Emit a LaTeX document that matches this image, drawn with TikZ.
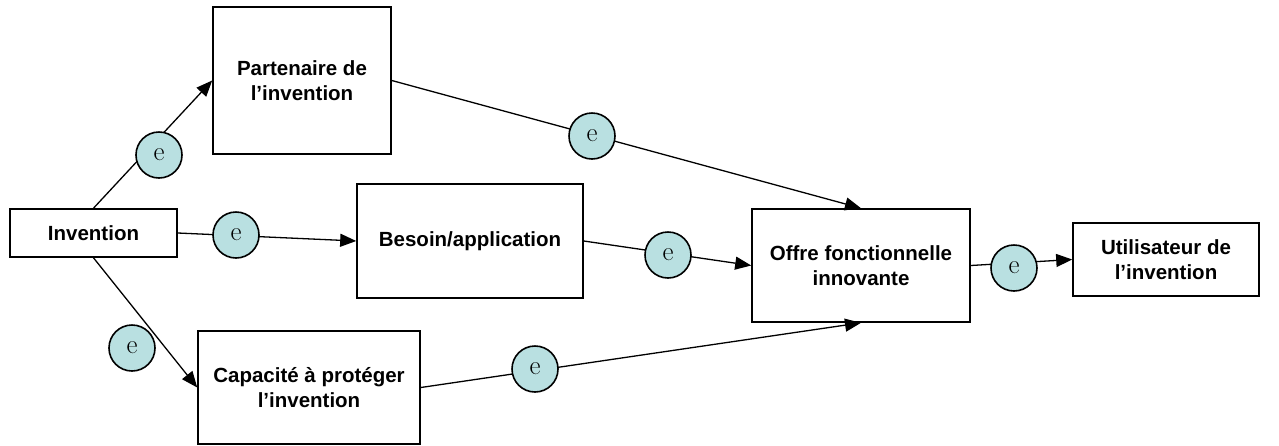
\documentclass[tikz,border=0pt]{standalone}
\usepackage{fontspec}
\setsansfont{Liberation Sans}
\usetikzlibrary{arrows.meta}
\definecolor{circfill}{RGB}{185,224,225}
\tikzset{
  box/.style={draw=black, line width=1.6pt, fill=white, inner sep=0pt, align=center,
    font=\sffamily\bfseries\fontsize{20.5}{25}\selectfont},
  ecirc/.style={circle, draw=black, line width=1.6pt, fill=circfill, minimum size=46pt, inner sep=0pt,
    font=\fontsize{27}{27}\selectfont},
  conn/.style={draw=black, line width=1.3pt, -{Triangle[length=16pt,width=13pt]}},
  plain/.style={draw=black, line width=1.3pt}
}
\begin{document}
\begin{tikzpicture}[x=1pt,y=-1pt]
\useasboundingbox (0,0) rectangle (1279,445);
% boxes
\node[box, minimum width=167pt, minimum height=48pt] (inv) at (93.5,233) {Invention};
\node[box, minimum width=178pt, minimum height=147pt] (par) at (302,80.5) {Partenaire de\\l’invention};
\node[box, minimum width=226pt, minimum height=114pt] (bes) at (470,241) {Besoin/application};
\node[box, minimum width=222pt, minimum height=113pt] (cap) at (309,387.5) {Capacité à protéger\\l’invention};
\node[box, minimum width=218pt, minimum height=113pt] (off) at (861,265.5) {Offre fonctionnelle\\innovante};
\node[box, minimum width=186pt, minimum height=73pt] (uti) at (1166,259.5) {Utilisateur de\\l’invention};
% connectors
\draw[conn] (inv.north) -- (par.west);
\draw[conn] (inv.east) -- (bes.west);
\draw[conn] (inv.south) -- (cap.west);
\draw[conn] (par.east) -- (off.north);
\draw[conn] (bes.east) -- (off.west);
\draw[conn] (cap.east) -- (off.south);
\draw[conn] (off.east) -- (uti.west);
% e circles
\node[ecirc] (e1) at (159,155) {e};
\node[ecirc] (e2) at (236,235) {e};
\node[ecirc] (e3) at (132,348) {e};
\node[ecirc] (e4) at (592,136) {e};
\node[ecirc] (e5) at (668,255) {e};
\node[ecirc] (e6) at (535,369) {e};
\node[ecirc] (e7) at (1014,268) {e};
\end{tikzpicture}
\end{document}
